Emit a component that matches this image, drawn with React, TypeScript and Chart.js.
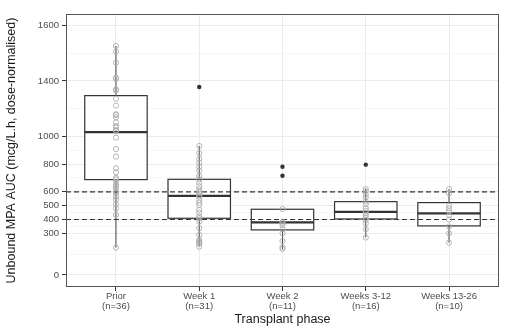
import React, { useEffect, useRef } from 'react';
import { Chart, registerables } from 'chart.js';

Chart.register(...registerables);

const categories = ['Prior', 'Week 1', 'Week 2', 'Weeks 3-12', 'Weeks 13-26'];
const sampleSizes = [36, 31, 11, 16, 10];

const whiskerLow = [197, 204, 188, 270, 233];
const q1 = [688, 409, 325, 404, 354];
const median = [1030, 570, 380, 455, 445];
const q3 = [1294, 690, 474, 529, 522];
const whiskerHigh = [1652, 931, 476, 620, 620];

const pointsPrior = [1652, 1611, 1532, 1424, 1414, 1340, 1330, 1272, 1222, 1160, 1154, 1138, 1100, 1075, 1063, 1045, 1039, 991, 909, 854, 770, 741, 700, 690, 673, 649, 640, 626, 601, 590, 565, 545, 510, 480, 433, 197];
const pointsWeek1 = [931, 880, 840, 810, 781, 752, 714, 690, 666, 640, 618, 600, 589, 575, 565, 540, 522, 505, 470, 450, 421, 409, 385, 337, 289, 253, 240, 233, 225, 204];
const pointsWeek2 = [476, 385, 375, 360, 330, 300, 245, 200, 188];
const pointsWeeks3to12 = [620, 605, 580, 560, 530, 510, 482, 462, 448, 432, 412, 398, 372, 330, 270];
const pointsWeeks13to26 = [620, 590, 500, 481, 460, 430, 400, 350, 300, 233];
const pointGroups = [pointsPrior, pointsWeek1, pointsWeek2, pointsWeeks3to12, pointsWeeks13to26];

const outliersByGroup = [[], [1356], [781, 716], [796], []];

const refLines = [400, 600];

const yTickValues = [0, 300, 400, 500, 600, 800, 1000, 1400, 1800];
const yTickLabels = ['0', '300', '400', '500', '600', '800', '1000', '1400', '1600'];
const yMinorValues = [150, 350, 450, 550, 700, 900, 1200, 1600];

const Y_MIN = -87;
const Y_MAX = 1883;
const X_MIN = -0.6;
const X_MAX = 4.6;
const BOX_WIDTH = 0.75;

const boxPlugin = {
  id: 'boxPlugin',
  beforeDatasetsDraw(chart: any) {
    const { ctx, scales } = chart;
    const x = scales.x;
    const y = scales.y;
    ctx.save();
    for (let i = 0; i < categories.length; i++) {
      const cx = x.getPixelForValue(i);
      const half = x.getPixelForValue(i + BOX_WIDTH / 2) - cx;
      // whiskers
      ctx.strokeStyle = '#444444';
      ctx.lineWidth = 1;
      ctx.beginPath();
      ctx.moveTo(cx, y.getPixelForValue(whiskerLow[i]));
      ctx.lineTo(cx, y.getPixelForValue(q1[i]));
      ctx.moveTo(cx, y.getPixelForValue(q3[i]));
      ctx.lineTo(cx, y.getPixelForValue(whiskerHigh[i]));
      ctx.stroke();
      // box
      const top = y.getPixelForValue(q3[i]);
      const bottom = y.getPixelForValue(q1[i]);
      ctx.fillStyle = '#ffffff';
      ctx.fillRect(cx - half, top, half * 2, bottom - top);
      ctx.strokeStyle = '#333333';
      ctx.lineWidth = 1.2;
      ctx.strokeRect(cx - half, top, half * 2, bottom - top);
      // median
      const my = y.getPixelForValue(median[i]);
      ctx.lineWidth = 2.2;
      ctx.beginPath();
      ctx.moveTo(cx - half, my);
      ctx.lineTo(cx + half, my);
      ctx.stroke();
    }
    ctx.restore();
  },
  afterDatasetsDraw(chart: any) {
    const { ctx, chartArea } = chart;
    ctx.save();
    ctx.strokeStyle = '#555555';
    ctx.lineWidth = 1;
    ctx.strokeRect(
      Math.round(chartArea.left) + 0.5,
      Math.round(chartArea.top) + 0.5,
      Math.round(chartArea.right - chartArea.left) - 1,
      Math.round(chartArea.bottom - chartArea.top) - 1
    );
    ctx.restore();
  },
};

export default function App() {
  const canvasRef = useRef<HTMLCanvasElement | null>(null);

  useEffect(() => {
    document.body.style.margin = '0';
    document.body.style.background = '#ffffff';
    const canvas = canvasRef.current;
    if (!canvas) return;

    const datasets: any[] = [];
    refLines.forEach((v) => {
      datasets.push({
        type: 'line',
        data: [
          { x: X_MIN, y: v },
          { x: X_MAX, y: v },
        ],
        borderColor: '#333333',
        borderWidth: 1.2,
        borderDash: [5, 3],
        pointRadius: 0,
        fill: false,
        order: 3,
      });
    });
    datasets.push({
      type: 'scatter',
      data: pointGroups.flatMap((g, i) => g.map((v) => ({ x: i, y: v }))),
      pointStyle: 'circle',
      pointRadius: 2.6,
      borderColor: '#AEAEAE',
      backgroundColor: 'rgba(0,0,0,0)',
      borderWidth: 0.9,
      order: 2,
    });
    datasets.push({
      type: 'scatter',
      data: outliersByGroup.flatMap((g, i) => g.map((v) => ({ x: i, y: v }))),
      pointStyle: 'circle',
      pointRadius: 2.2,
      borderColor: '#333333',
      backgroundColor: '#333333',
      borderWidth: 0,
      order: 1,
    });

    const allY = [...yTickValues, ...yMinorValues].sort((a, b) => a - b);
    const tickFont = { family: '"Liberation Sans", Arial, sans-serif', size: 9.5, lineHeight: 1.0 };

    const chart = new Chart(canvas, {
      type: 'scatter',
      data: { datasets },
      plugins: [boxPlugin],
      options: {
        animation: false,
        responsive: false,
        events: [],
        layout: { padding: { top: 14, right: 6, left: 0, bottom: 0 } },
        plugins: { legend: { display: false }, tooltip: { enabled: false } },
        scales: {
          x: {
            type: 'linear',
            min: X_MIN,
            max: X_MAX,
            afterBuildTicks: (scale: any) => {
              scale.ticks = categories.map((_, i) => ({ value: i }));
            },
            afterFit: (scale: any) => {
              scale.height = 42;
            },
            border: { display: false },
            grid: {
              color: '#EBEBEB',
              lineWidth: 1,
              tickColor: '#333333',
              tickLength: 4,
            },
            ticks: {
              autoSkip: false,
              maxRotation: 0,
              padding: 1,
              color: '#4D4D4D',
              font: tickFont,
              callback: (value: any) => {
                const i = Math.round(Number(value));
                return [categories[i], `(n=${sampleSizes[i]})`];
              },
            },
            title: {
              display: true,
              text: 'Transplant phase',
              color: '#1A1A1A',
              font: { family: '"Liberation Sans", Arial, sans-serif', size: 12.5, lineHeight: 1.2 },
              padding: { top: 0, bottom: 1.5 },
            },
          },
          y: {
            type: 'linear',
            min: Y_MIN,
            max: Y_MAX,
            afterBuildTicks: (scale: any) => {
              scale.ticks = allY.map((v) => ({ value: v }));
            },
            afterFit: (scale: any) => {
              scale.width = 66;
            },
            border: { display: false },
            grid: {
              color: (ctx: any) => (yTickValues.includes(ctx.tick?.value) ? '#EBEBEB' : '#F4F4F4'),
              lineWidth: (ctx: any) => (yTickValues.includes(ctx.tick?.value) ? 1 : 0.8),
              tickColor: (ctx: any) => (yTickValues.includes(ctx.tick?.value) ? '#333333' : 'rgba(0,0,0,0)'),
              tickLength: 4,
            },
            ticks: {
              autoSkip: false,
              padding: 3,
              color: '#4D4D4D',
              font: tickFont,
              callback: (value: any) => {
                const idx = yTickValues.indexOf(Number(value));
                return idx >= 0 ? yTickLabels[idx] : '';
              },
            },
            title: {
              display: true,
              text: 'Unbound MPA AUC (mcg/L.h, dose-normalised)',
              color: '#1A1A1A',
              font: { family: '"Liberation Sans", Arial, sans-serif', size: 12.5, lineHeight: 1.2 },
              padding: { top: 4.5, bottom: 0 },
            },
          },
        },
      },
    });

    return () => {
      chart.destroy();
    };
  }, []);

  return (
    <div style={{ width: 505, height: 329, background: '#ffffff' }}>
      <canvas ref={canvasRef} width={505} height={329} style={{ display: 'block', width: 505, height: 329 }} />
    </div>
  );
}
